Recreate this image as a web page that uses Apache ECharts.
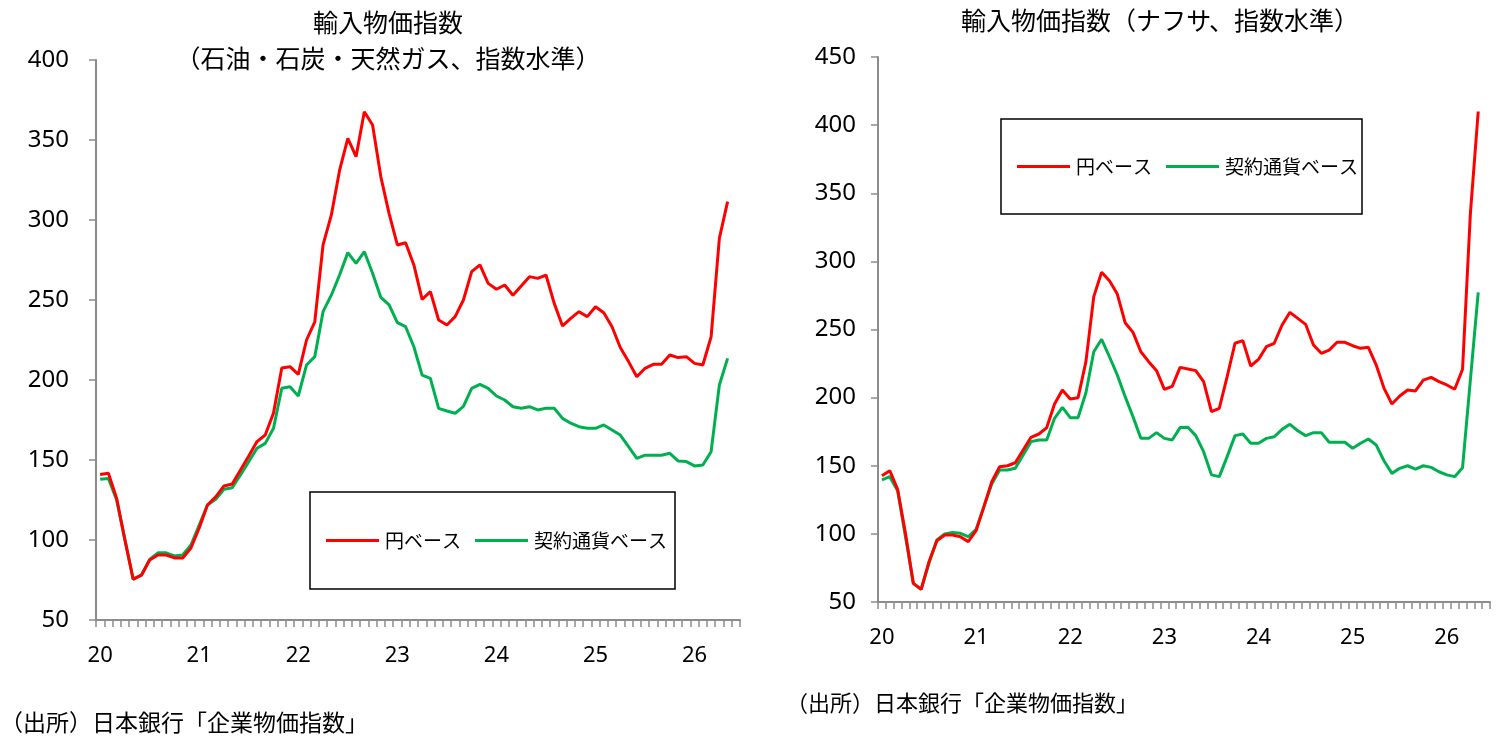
<!DOCTYPE html>
<html>
<head>
<meta charset="utf-8">
<script src="https://cdn.jsdelivr.net/npm/echarts@6/dist/echarts.min.js"></script>
<style>
  html, body { margin: 0; padding: 0; background: #fff; }
  #chart { width: 1496px; height: 741px; }
</style>
</head>
<body>
<div id="chart"></div>
<script>
// 月次カテゴリ（2020年1月〜2026年6月、最後の月はデータなし）
var months = [];
for (var y = 2020; y <= 2026; y++) {
    for (var m = 1; m <= 12; m++) {
        if (y === 2026 && m > 6) break;
        months.push(y + '-' + (m < 10 ? '0' + m : m));
    }
}

// 石油・石炭・天然ガス
var energyYen = [141, 141.7, 126, 100, 75.6, 78, 87.5, 90.6, 90.6, 88.8, 88.8, 95,
    107.5, 121.9, 127, 133.8, 135, 143.8, 152.5, 161.5, 165.6, 179.4, 207.5, 208.3,
    203.5, 225, 236.4, 284.4, 303, 331, 351, 339.6, 367.7, 359.4, 327, 304,
    284.4, 285.8, 271.9, 250.4, 255.2, 237.5, 234.4, 239.6, 250, 267.7, 271.9, 260.4,
    256.7, 259.4, 253, 258.8, 264.6, 263.5, 265.6, 247.9, 233.8, 238.5, 242.7, 239.6,
    245.8, 242, 233.3, 220.3, 211.5, 202, 207.3, 209.8, 209.8, 215.6, 214, 214.6,
    210.4, 209.4, 227, 288.5, 311.5];
var energyContract = [137.9, 138.5, 125, 100.4, 75.4, 78, 87.9, 92, 92, 90, 90.6, 96.9,
    109.4, 121.9, 125.4, 131.7, 132.7, 140.6, 149, 157.3, 160.4, 169.8, 194.8, 195.8,
    190, 209.4, 214.6, 242.7, 253, 265.6, 279.6, 272.9, 280.2, 266.7, 251.6, 246.9,
    235.8, 233.3, 220.8, 203, 201, 182.3, 180.6, 179.2, 183.5, 194.8, 197.3, 194.8,
    190, 187.5, 183.3, 182.3, 183.3, 181.3, 182.3, 182.3, 176, 173, 170.8, 169.8,
    169.8, 171.9, 168.8, 165.6, 158.3, 151, 153, 153, 153, 154.2, 149.4, 149,
    146.3, 146.9, 155.2, 196.9, 213.5];

// ナフサ
var naphthaYen = [142.7, 146.4, 132.7, 100.4, 63.7, 59.3, 79.6, 95, 99.2, 99.2, 97.9, 94.3,
    102.3, 120, 138.3, 149.3, 150, 152.2, 161.6, 170.9, 173.3, 177.9, 195.3, 205.6,
    199, 199.9, 226.4, 274.1, 292, 285.8, 276, 255, 247.9, 233.7, 226.4, 219.8,
    206.1, 208.3, 222.2, 221, 219.8, 211.7, 189.7, 192.2, 215.4, 239.9, 241.8, 223.2,
    228.1, 237.4, 239.9, 253.3, 262.6, 258.2, 253.8, 238.6, 232.5, 234.9, 240.6, 240.6,
    238.1, 236.2, 236.9, 223.9, 206.8, 195.3, 201.2, 205.6, 204.9, 212.9, 214.9, 211.7,
    209.3, 206.1, 220.8, 335, 410];
var naphthaContract = [139.6, 142, 131.7, 97.9, 63.7, 59.3, 78.4, 95.5, 99.9, 101.1, 100.4, 97.9,
    103.3, 120, 136.6, 146.9, 146.9, 148.1, 157.9, 167.7, 168.9, 168.9, 184.8, 192.9,
    185.3, 185.3, 203.6, 233.7, 242.8, 230, 216.6, 200.7, 186, 170.1, 170.1, 174.3,
    170.1, 168.9, 178, 178.2, 172.1, 160.3, 143.3, 142, 156.7, 172.1, 173.3, 166.5,
    166.5, 170.1, 171.3, 176.7, 180.4, 175.7, 172.1, 174.3, 174.3, 167.2, 167.2, 167.2,
    162.8, 166.5, 169.6, 165.2, 153.5, 144.4, 148.1, 150, 147.6, 150, 148.8, 145.6,
    143.3, 142, 148.6, 213, 277.3];

var seriesNames = ['円ベース', '契約通貨ベース'];
var leftTicks = { min: 50, max: 400, interval: 50 };
var rightTicks = { min: 50, max: 450, interval: 50 };

var JP = '"Noto Sans CJK JP", "Noto Sans", sans-serif';
var NUM = '"Noto Sans", sans-serif';
var AXIS_GRAY = '#8c8c8c';
var RED = '#ff0000';
var GREEN = '#00b050';

function xAxis(gridIndex) {
    return {
        type: 'category',
        gridIndex: gridIndex,
        data: months,
        boundaryGap: true,
        axisLine: { lineStyle: { color: AXIS_GRAY, width: 2 } },
        axisTick: { show: true, interval: 0, length: 7, lineStyle: { color: AXIS_GRAY, width: 1.5 } },
        axisLabel: {
            interval: function (idx) { return idx % 12 === 0; },
            formatter: function (v) { return v.slice(2, 4); },
            color: '#000', fontSize: 22, fontFamily: NUM, margin: 25
        },
        splitLine: { show: false }
    };
}

function yAxis(gridIndex, ticks, margin) {
    return {
        type: 'value',
        gridIndex: gridIndex,
        min: ticks.min, max: ticks.max, interval: ticks.interval,
        axisLine: { show: true, lineStyle: { color: AXIS_GRAY, width: 2 } },
        axisTick: { show: true, length: 7, lineStyle: { color: AXIS_GRAY, width: 1.5 } },
        axisLabel: { color: '#000', fontSize: 24, fontFamily: NUM, margin: margin },
        splitLine: { show: false }
    };
}

function line(name, data, color, idx) {
    return {
        name: name, type: 'line', data: data,
        xAxisIndex: idx, yAxisIndex: idx,
        showSymbol: false, symbol: 'none',
        lineStyle: { color: color, width: 3 },
        itemStyle: { color: color },
        emphasis: { disabled: true },
        z: color === RED ? 3 : 2
    };
}

function legend(left, top, padding) {
    return {
        data: seriesNames,
        left: left, top: top,
        orient: 'horizontal',
        icon: 'rect', itemWidth: 53, itemHeight: 3, itemGap: 14,
        padding: padding,
        borderColor: '#000', borderWidth: 1.5, backgroundColor: '#fff',
        textStyle: { color: '#000', fontSize: 19, fontFamily: JP, padding: [0, 0, 0, 1] },
        selectedMode: false
    };
}

var chart = echarts.init(document.getElementById('chart'));
chart.setOption({
    animation: false,
    backgroundColor: '#fff',
    grid: [
        { left: 96, top: 60, width: 644, height: 560 },
        { left: 878, top: 57, width: 612, height: 545 }
    ],
    xAxis: [xAxis(0), xAxis(1)],
    yAxis: [yAxis(0, leftTicks, 27), yAxis(1, rightTicks, 22)],
    legend: [
        legend(310, 492, [39, 8, 39, 16]),
        legend(1001, 119, [38, 4, 38, 16])
    ],
    series: [
        line(seriesNames[0], energyYen, RED, 0),
        line(seriesNames[1], energyContract, GREEN, 0),
        line(seriesNames[0], naphthaYen, RED, 1),
        line(seriesNames[1], naphthaContract, GREEN, 1)
    ],
    graphic: [
        { type: 'text', x: 388, y: 22, style: { text: '輸入物価指数', fontSize: 25, fontFamily: JP, fill: '#000', textAlign: 'center', textVerticalAlign: 'middle' } },
        { type: 'text', x: 388, y: 58, style: { text: '（石油・石炭・天然ガス、指数水準）', fontSize: 25, fontFamily: JP, fill: '#000', textAlign: 'center', textVerticalAlign: 'middle' } },
        { type: 'text', x: 1160, y: 20, style: { text: '輸入物価指数（ナフサ、指数水準）', fontSize: 25, fontFamily: JP, fill: '#000', textAlign: 'center', textVerticalAlign: 'middle' } },
        { type: 'text', x: 0, y: 722, style: { text: '（出所）日本銀行「企業物価指数」', fontSize: 23, fontFamily: JP, fill: '#000', textAlign: 'left', textVerticalAlign: 'middle' } },
        { type: 'text', x: 786, y: 703, style: { text: '（出所）日本銀行「企業物価指数」', fontSize: 22, fontFamily: JP, fill: '#000', textAlign: 'left', textVerticalAlign: 'middle' } }
    ]
});
</script>
</body>
</html>
